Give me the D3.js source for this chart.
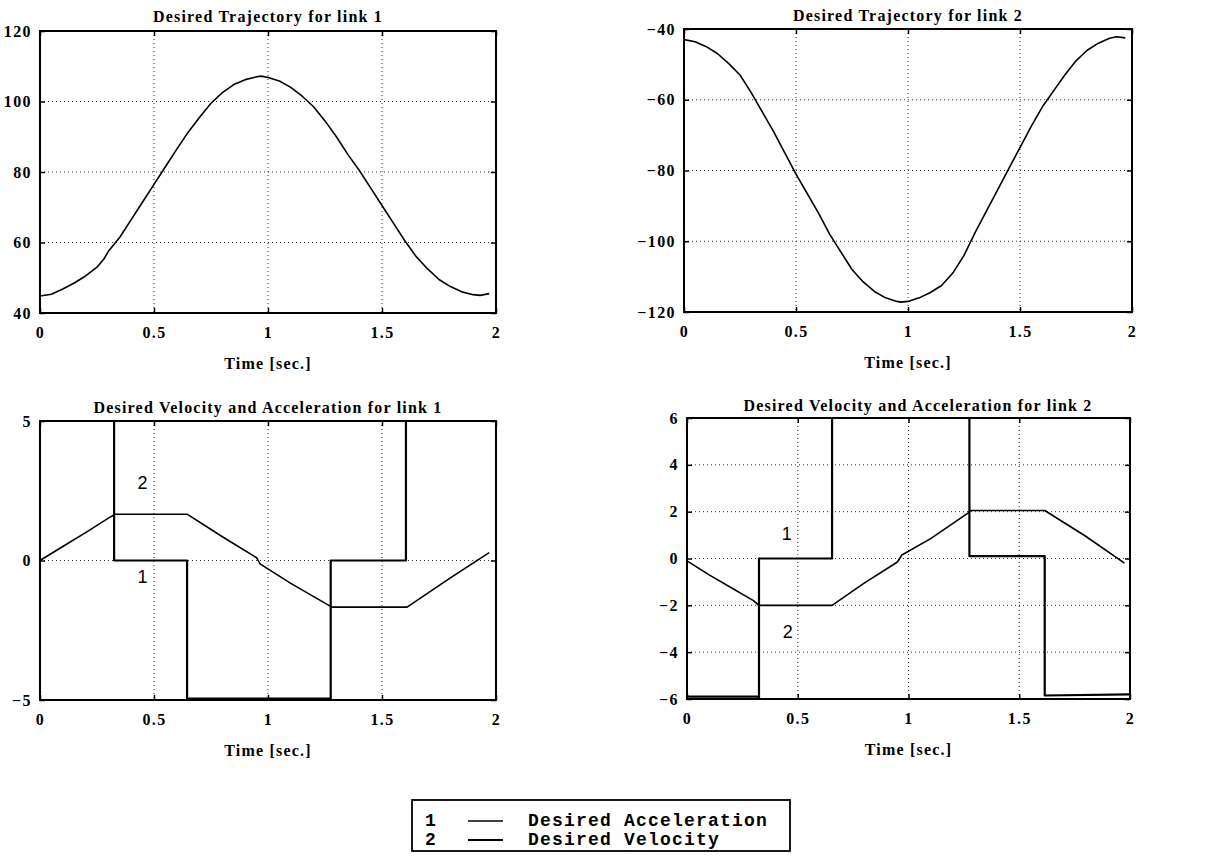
<!DOCTYPE html>
<html>
<head>
<meta charset="utf-8">
<script src="https://cdn.jsdelivr.net/npm/d3@7"></script>
<style>
  body { margin: 0; background: #fff; }
  .ttl { font-family: "Liberation Serif", "DejaVu Serif", serif; font-weight: bold; font-size: 16px; letter-spacing: 1.2px; }
  .tick text { font-family: "Liberation Serif", "DejaVu Serif", serif; font-weight: bold; font-size: 16px; letter-spacing: 1.4px; }
  .lbl { font-family: "Liberation Sans", Arial, sans-serif; font-size: 18px; }
  .leg { font-family: "Liberation Mono", "DejaVu Sans Mono", monospace; font-weight: bold; font-size: 18px; letter-spacing: 1.2px; }
</style>
</head>
<body>
<div id="chart"></div>
<script>
// link 1 trajectory [time, deg]
const traj1 = [
  [0, 44.8], [0.05, 45.3], [0.1, 46.8], [0.15, 48.5], [0.2, 50.5], [0.25, 53], [0.28, 55.3], [0.3, 57.5],
  [0.35, 61.5], [0.4, 66.5], [0.45, 71.5], [0.5, 76.5], [0.55, 81.5], [0.6, 86.5], [0.65, 91.3],
  [0.7, 95.5], [0.75, 99.5], [0.8, 102.5], [0.85, 104.8], [0.9, 106.2], [0.95, 107], [0.97, 107.2],
  [1.0, 106.8], [1.05, 105.8], [1.1, 104], [1.15, 101.5], [1.2, 98.5], [1.25, 94.5], [1.3, 90],
  [1.35, 85], [1.4, 80.5], [1.45, 75.5], [1.5, 70.5], [1.55, 65.5], [1.6, 60.5], [1.65, 56],
  [1.7, 52.5], [1.75, 49.5], [1.8, 47.5], [1.85, 46], [1.9, 45.2], [1.93, 45], [1.97, 45.5]
];
// link 2 trajectory
const traj2 = [
  [0, -43], [0.05, -43.6], [0.1, -45], [0.15, -47], [0.2, -49.8], [0.25, -53], [0.3, -58],
  [0.35, -63.5], [0.4, -69], [0.45, -75], [0.5, -81], [0.55, -86.5], [0.6, -92], [0.65, -98],
  [0.7, -103], [0.75, -108], [0.8, -111.5], [0.85, -114.2], [0.9, -116], [0.95, -117], [0.97, -117.2],
  [1.0, -117], [1.05, -116], [1.1, -114.5], [1.15, -112.5], [1.2, -109], [1.25, -104], [1.3, -97.5],
  [1.35, -91.5], [1.4, -85.5], [1.45, -79.5], [1.5, -73.5], [1.55, -67.5], [1.6, -62], [1.65, -57.5],
  [1.7, -53], [1.75, -49], [1.8, -46], [1.85, -44], [1.9, -42.6], [1.93, -42.2], [1.97, -42.5]
];
// desired acceleration (curve 1) and velocity (curve 2)
const acc1 = [
  [0, 5], [0.325, 5], [0.325, 0], [0.645, 0], [0.645, -4.95], [1.275, -4.95],
  [1.275, 0], [1.605, 0], [1.605, 5], [2, 5]
];
const vel1 = [
  [0, 0], [0.1, 0.5], [0.2, 1.0], [0.3, 1.52], [0.33, 1.66], [0.645, 1.66], [0.8, 0.85],
  [0.95, 0.1], [0.965, -0.12], [1.1, -0.82], [1.28, -1.67], [1.61, -1.67], [1.8, -0.62], [1.97, 0.28]
];
const acc2 = [
  [0, -5.9], [0.325, -5.9], [0.325, -6], [0.325, 0], [0.655, 0], [0.655, 6], [1.275, 6],
  [1.275, 0.1], [1.615, 0.1], [1.615, -5.85], [2, -5.8]
];
const vel2 = [
  [0, -0.1], [0.1, -0.7], [0.2, -1.25], [0.3, -1.8], [0.325, -2], [0.655, -2], [0.8, -1.05],
  [0.95, -0.15], [0.97, 0.15], [1.1, 0.85], [1.27, 1.95], [1.28, 2.05], [1.615, 2.05],
  [1.8, 0.95], [1.975, -0.2]
];
const xTicks = [0, 0.5, 1, 1.5, 2];
const yTicks1 = [40, 60, 80, 100, 120];
const yTicks2 = [-120, -100, -80, -60, -40];
const yTicks3 = [-5, 0, 5];
const yTicks4 = [-6, -4, -2, 0, 2, 4, 6];
const titles = [
  'Desired Trajectory for link 1',
  'Desired Trajectory for link 2',
  'Desired Velocity and Acceleration for link 1',
  'Desired Velocity and Acceleration for link 2'
];
const legendRows = [
  { num: '1', name: 'Desired Acceleration', w: 1.4 },
  { num: '2', name: 'Desired Velocity', w: 2 }
];

const svg = d3.select('#chart').append('svg').attr('width', 1224).attr('height', 863);

function drawPanel(p) {
  const x = d3.scaleLinear().domain([0, 2]).range([p.x0, p.x1]);
  const y = d3.scaleLinear().domain(p.yDom).range([p.y1, p.y0]);
  const g = svg.append('g');

  // dotted grid
  g.selectAll('.gx').data(xTicks.slice(1, -1)).enter().append('line')
    .attr('x1', d => x(d)).attr('x2', d => x(d)).attr('y1', p.y0).attr('y2', p.y1)
    .attr('stroke', '#333').attr('stroke-width', 1).attr('stroke-dasharray', '1,3');
  g.selectAll('.gy').data(p.yTicks.slice(1, -1)).enter().append('line')
    .attr('x1', p.x0).attr('x2', p.x1).attr('y1', d => y(d)).attr('y2', d => y(d))
    .attr('stroke', '#333').attr('stroke-width', 1).attr('stroke-dasharray', '1,3');

  // axes
  const fmt = d => d3.format('')(d);
  g.append('g').attr('transform', 'translate(0,' + p.y1 + ')')
    .call(d3.axisBottom(x).tickValues(xTicks).tickSize(-5).tickPadding(14).tickFormat(fmt))
    .call(a => a.select('.domain').remove());
  g.append('g').attr('transform', 'translate(0,' + p.y0 + ')')
    .call(d3.axisTop(x).tickValues(xTicks).tickSize(-5).tickFormat(''))
    .call(a => a.select('.domain').remove());
  g.append('g').attr('transform', 'translate(' + p.x0 + ',0)')
    .call(d3.axisLeft(y).tickValues(p.yTicks).tickSize(-5).tickPadding(8).tickFormat(fmt))
    .call(a => a.select('.domain').remove());
  g.append('g').attr('transform', 'translate(' + p.x1 + ',0)')
    .call(d3.axisRight(y).tickValues(p.yTicks).tickSize(-5).tickFormat(''))
    .call(a => a.select('.domain').remove());
  g.selectAll('.tick line').attr('stroke-width', 1.5);

  // frame
  g.append('rect').attr('x', p.x0).attr('y', p.y0)
    .attr('width', p.x1 - p.x0).attr('height', p.y1 - p.y0)
    .attr('fill', 'none').attr('stroke', '#000').attr('stroke-width', 2);

  const line = d3.line().x(d => x(d[0])).y(d => y(d[1]));
  p.series.forEach(s => {
    g.append('path').datum(s.data).attr('d', line)
      .attr('fill', 'none').attr('stroke', '#000').attr('stroke-width', s.w)
      .attr('stroke-linejoin', 'round');
  });

  g.append('text').attr('class', 'ttl').attr('x', p.tx).attr('y', p.ty)
    .attr('text-anchor', 'middle').text(p.title);
  g.append('text').attr('class', 'ttl').attr('x', x(1)).attr('y', p.y1 + 56)
    .attr('text-anchor', 'middle').text('Time [sec.]');

  (p.labels || []).forEach(l => {
    g.append('text').attr('class', 'lbl').attr('x', x(l.t)).attr('y', y(l.v))
      .attr('text-anchor', 'middle').attr('dominant-baseline', 'middle').text(l.s);
  });
}

drawPanel({ x0: 40, x1: 496, y0: 31, y1: 313, yDom: [40, 120], yTicks: yTicks1,
  title: titles[0], tx: 268, ty: 22, series: [{ data: traj1, w: 1.6 }] });
drawPanel({ x0: 684, x1: 1132, y0: 29, y1: 312, yDom: [-120, -40], yTicks: yTicks2,
  title: titles[1], tx: 908, ty: 21, series: [{ data: traj2, w: 1.6 }] });
drawPanel({ x0: 40, x1: 496, y0: 421, y1: 700, yDom: [-5, 5], yTicks: yTicks3,
  title: titles[2], tx: 268, ty: 413, series: [{ data: acc1, w: 2.2 }, { data: vel1, w: 1.6 }],
  labels: [{ t: 0.45, v: 2.75, s: '2' }, { t: 0.45, v: -0.65, s: '1' }] });
drawPanel({ x0: 687, x1: 1130, y0: 418, y1: 699, yDom: [-6, 6], yTicks: yTicks4,
  title: titles[3], tx: 918, ty: 411, series: [{ data: acc2, w: 2.2 }, { data: vel2, w: 1.6 }],
  labels: [{ t: 0.45, v: 1.0, s: '1' }, { t: 0.455, v: -3.2, s: '2' }] });

// legend box
const leg = svg.append('g');
leg.append('rect').attr('x', 412).attr('y', 800).attr('width', 378).attr('height', 51)
  .attr('fill', '#fff').attr('stroke', '#000').attr('stroke-width', 1.8);
legendRows.forEach((r, i) => {
  const cy = 821 + i * 19;
  leg.append('text').attr('class', 'leg').attr('x', 425).attr('y', cy + 5).text(r.num);
  leg.append('line').attr('x1', 468).attr('x2', 503).attr('y1', cy).attr('y2', cy)
    .attr('stroke', '#000').attr('stroke-width', r.w);
  leg.append('text').attr('class', 'leg').attr('x', 528).attr('y', cy + 5).text(r.name);
});
</script>
</body>
</html>
